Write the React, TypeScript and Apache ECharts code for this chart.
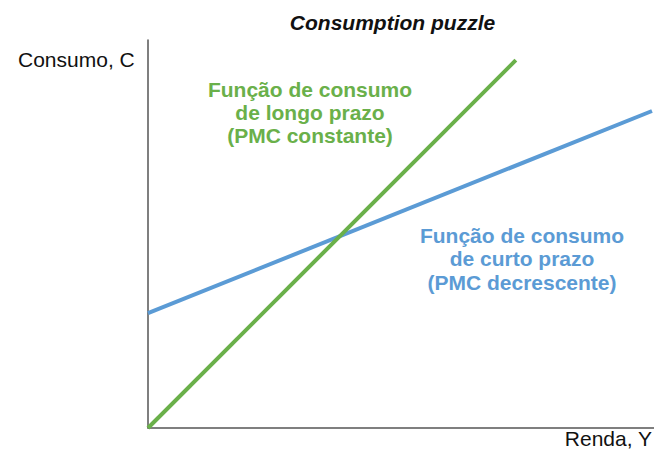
import React, { useEffect, useRef } from "react";
import * as echarts from "echarts";

const longRunX = [0, 72.7];
const longRunY = [0, 94.8];
const shortRunX = [0, 99.6];
const shortRunY = [29.6, 81.7];
const titleText = "Consumption puzzle";
const yAxisLabel = "Consumo, C";
const xAxisLabel = "Renda, Y";
const longRunLabel = ["Função de consumo", "de longo prazo", "(PMC constante)"];
const shortRunLabel = ["Função de consumo", "de curto prazo", "(PMC decrescente)"];

const GREEN = "#6AB04A";
const BLUE = "#5B9BD5";

export default function App() {
  const ref = useRef<HTMLDivElement>(null);
  useEffect(() => {
    if (!ref.current) return;
    const chart = echarts.init(ref.current, null, { renderer: "svg" });
    const fontFamily = "Liberation Sans, Arial, sans-serif";
    chart.setOption({
      animation: false,
      backgroundColor: "#ffffff",
      grid: { left: 148, top: 40, right: 0, bottom: 28, containLabel: false },
      xAxis: {
        type: "value",
        min: 0,
        max: 100,
        axisLine: { show: true, onZero: false, lineStyle: { color: "#555", width: 1.5 } },
        axisTick: { show: false },
        axisLabel: { show: false },
        splitLine: { show: false },
      },
      yAxis: {
        type: "value",
        min: 0,
        max: 100,
        axisLine: { show: true, onZero: false, lineStyle: { color: "#555", width: 1.5 } },
        axisTick: { show: false },
        axisLabel: { show: false },
        splitLine: { show: false },
      },
      series: [
        {
          type: "line",
          data: shortRunX.map((x, i) => [x, shortRunY[i]]),
          showSymbol: false,
          symbol: "none",
          lineStyle: { color: BLUE, width: 4 },
        },
        {
          type: "line",
          data: longRunX.map((x, i) => [x, longRunY[i]]),
          showSymbol: false,
          symbol: "none",
          lineStyle: { color: GREEN, width: 4 },
        },
      ],
      graphic: [
        {
          type: "text",
          x: 392.5,
          y: 22,
          style: {
            text: titleText,
            fill: "#111",
            fontFamily,
            fontSize: 21,
            fontWeight: "bold",
            fontStyle: "italic",
            align: "center",
            verticalAlign: "middle",
          },
        },
        {
          type: "text",
          x: 18,
          y: 59,
          style: { text: yAxisLabel, fill: "#111", fontFamily, fontSize: 21, verticalAlign: "middle" },
        },
        {
          type: "text",
          x: 652,
          y: 438,
          style: { text: xAxisLabel, fill: "#111", fontFamily, fontSize: 21, align: "right", verticalAlign: "middle" },
        },
        {
          type: "text",
          x: 310,
          y: 112,
          style: {
            text: longRunLabel.join("\n"),
            fill: GREEN,
            fontFamily,
            fontSize: 21,
            fontWeight: "bold",
            align: "center",
            verticalAlign: "middle",
            lineHeight: 23,
          },
        },
        {
          type: "text",
          x: 522,
          y: 258.5,
          style: {
            text: shortRunLabel.join("\n"),
            fill: BLUE,
            fontFamily,
            fontSize: 21,
            fontWeight: "bold",
            align: "center",
            verticalAlign: "middle",
            lineHeight: 23.5,
          },
        },
      ],
    });
    return () => chart.dispose();
  }, []);
  return <div ref={ref} style={{ width: 654, height: 456, position: "absolute", left: 0, top: 0 }} />;
}
